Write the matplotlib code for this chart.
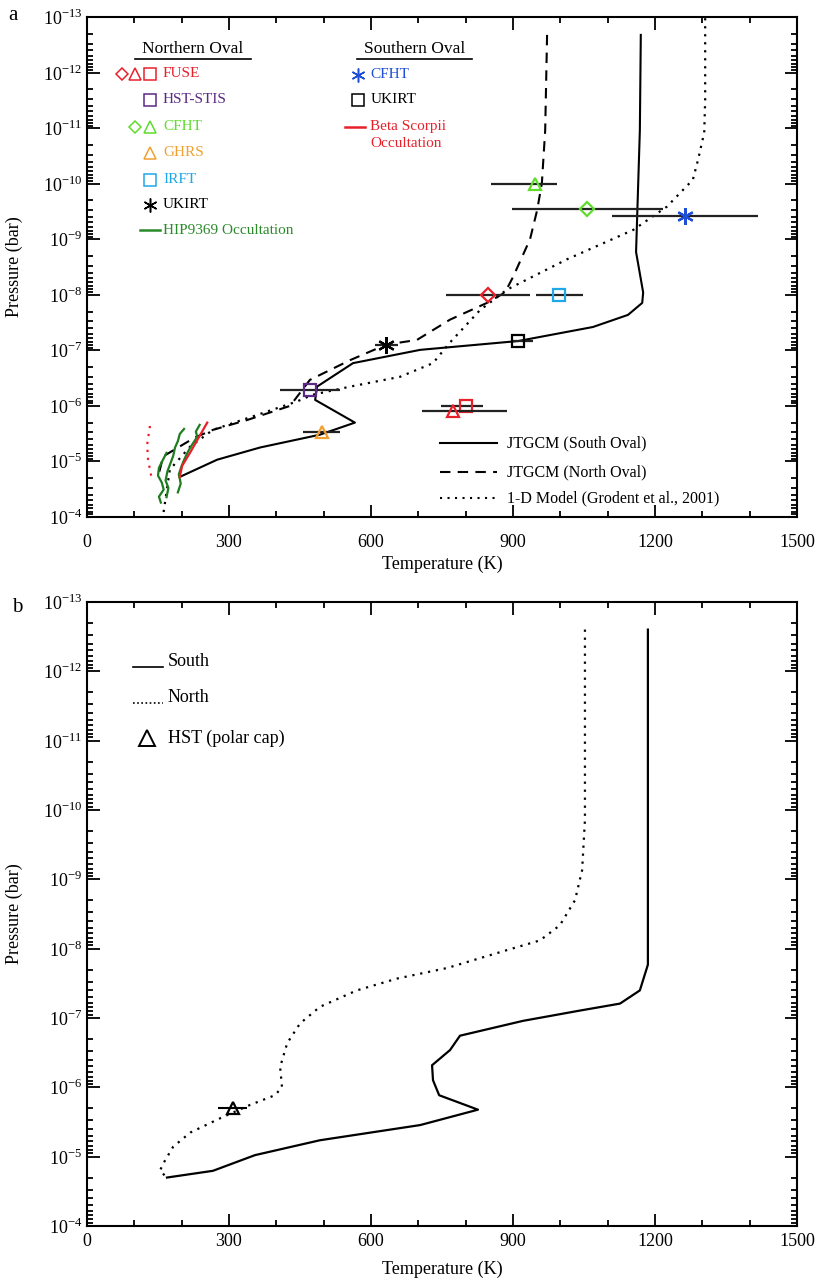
import matplotlib
matplotlib.use("Agg")
import matplotlib.pyplot as plt
from matplotlib.ticker import FixedLocator, LogLocator, MultipleLocator, NullFormatter

plt.rcParams["font.family"] = "Liberation Serif"
plt.rcParams["mathtext.fontset"] = "custom"
plt.rcParams["mathtext.rm"] = "Liberation Serif"

# ---- panel a: model profiles (temperature K, pressure bar) ----
south_a_T = [1170, 1168, 1160, 1175, 1173, 1143, 1069, 911, 704, 562, 486, 482, 566, 492, 366, 275, 196]
south_a_P = [2.1e-13, 1.1e-11, 1.7e-9, 9.1e-9, 1.4e-8, 2.3e-8, 3.8e-8, 6.8e-8, 9.8e-8, 1.7e-7, 4.5e-7,
             7.8e-7, 2.0e-6, 3.3e-6, 5.6e-6, 9.3e-6, 1.9e-5]
north_a_T = [972, 968, 961, 951, 936, 900, 883, 845, 767, 697, 632, 556, 471, 429, 338, 266, 228, 161, 150]
north_a_P = [2.1e-13, 1.1e-11, 9.8e-11, 3.0e-10, 1.0e-9, 4.8e-9, 9.1e-9, 1.4e-8, 2.8e-8, 6.5e-8, 7.9e-8,
             1.5e-7, 3.4e-7, 1.0e-6, 1.8e-6, 2.7e-6, 3.7e-6, 8.1e-6, 1.9e-5]
model1d_T = [1306, 1306, 1304, 1291, 1280, 1259, 1225, 1154, 1014, 887, 830, 767, 731, 661, 556, 477, 444,
             266, 218, 175, 161]
model1d_P = [1.05e-13, 3.1e-12, 1.2e-11, 3.7e-11, 8.5e-11, 1.3e-10, 2.6e-10, 6.8e-10, 2.3e-9, 8.1e-9, 1.9e-8,
             7.2e-8, 1.7e-7, 3.0e-7, 4.5e-7, 6.3e-7, 8.3e-7, 2.7e-6, 5.4e-6, 1.4e-5, 9.1e-5]

# occultations
beta_T = [254, 218, 201, 196]
beta_P = [2.0e-6, 6.9e-6, 1.2e-5, 1.9e-5]
beta_dot_T = [133, 127, 129, 137]
beta_dot_P = [2.3e-6, 5.0e-6, 9.3e-6, 2.1e-5]
hip1_T = [168, 160, 152, 150, 158, 162, 152, 156]
hip1_P = [7.0e-6, 9.5e-6, 1.3e-5, 1.8e-5, 2.4e-5, 3.2e-5, 4.3e-5, 5.5e-5]
hip2_T = [205, 196, 192, 186, 182, 176, 170, 166, 172, 168]
hip2_P = [2.6e-6, 3.2e-6, 4.3e-6, 5.6e-6, 8.0e-6, 1.1e-5, 1.5e-5, 2.2e-5, 3.0e-5, 4.4e-5]
hip3_T = [238, 230, 233, 222, 214, 206, 200, 194, 198, 192]
hip3_P = [2.2e-6, 2.9e-6, 3.6e-6, 5.0e-6, 6.5e-6, 9.0e-6, 1.2e-5, 1.7e-5, 2.5e-5, 3.6e-5]

# observations
obs_names = ["CFHT tri", "CFHT dia", "CFHT S", "FUSE dia", "IRFT", "UKIRT N", "UKIRT S", "HST-STIS",
             "FUSE sq", "FUSE tri", "GHRS"]
obs_T = [947, 1056, 1263, 847, 997, 632, 911, 471, 801, 773, 497]
obs_P = [1.0e-10, 2.8e-10, 3.8e-10, 1.0e-8, 1.0e-8, 7.9e-8, 6.8e-8, 5.1e-7, 1.0e-6, 1.26e-6, 3.0e-6]
obs_T_low = [854, 898, 1109, 758, 949, 608, 900, 408, 748, 708, 456]
obs_T_high = [993, 1217, 1418, 936, 1048, 657, 942, 535, 837, 887, 535]
obs_markers = ["^", "D", (6, 2, 0), "D", "s", (6, 2, 0), "s", "s", "s", "^", "^"]
obs_colors = ["#5fdc2c", "#5fdc2c", "#1f4fd8", "#e8202a", "#1fa8e8", "black", "black", "#5b2a86",
              "#e8202a", "#e8202a", "#f0a030"]

# ---- panel b ----
south_b_T = [1185, 1185, 1168, 1126, 1042, 921, 788, 767, 729, 731, 744, 826, 704, 492, 355, 266, 169]
south_b_P = [2.5e-13, 1.7e-8, 4.0e-8, 6.2e-8, 7.8e-8, 1.1e-7, 1.8e-7, 2.9e-7, 4.8e-7, 7.9e-7, 1.3e-6,
             2.1e-6, 3.5e-6, 5.8e-6, 9.5e-6, 1.6e-5, 2.0e-5]
north_b_T = [1052, 1052, 1046, 1031, 999, 957, 887, 761, 655, 570, 492, 450, 423, 408, 412, 397, 344, 281,
             218, 182, 161, 154, 169]
north_b_P = [2.5e-13, 1.4e-10, 7.4e-10, 2.0e-9, 4.6e-9, 7.6e-9, 1.05e-8, 1.9e-8, 2.7e-8, 4.0e-8, 6.9e-8,
             1.2e-7, 2.3e-7, 5.1e-7, 1.0e-6, 1.3e-6, 1.8e-6, 2.8e-6, 4.5e-6, 7.2e-6, 1.26e-5, 1.6e-5, 2.0e-5]
hst_T = [308]
hst_P = [2.0e-6]
hst_T_low = [277]
hst_T_high = [338]

decades = [1e-13, 1e-12, 1e-11, 1e-10, 1e-9, 1e-8, 1e-7, 1e-6, 1e-5, 1e-4]
decade_labels = [r"$10^{-13}$", r"$10^{-12}$", r"$10^{-11}$", r"$10^{-10}$", r"$10^{-9}$",
                 r"$10^{-8}$", r"$10^{-7}$", r"$10^{-6}$", r"$10^{-5}$", r"$10^{-4}$"]
temp_ticks = [0, 300, 600, 900, 1200, 1500]

DOT = (0, (1, 2.6))
DASH = (0, (5, 3.5))


def style_axes(ax, label_pad):
    ax.set_yscale("log")
    ax.set_xlim(0, 1500)
    ax.set_ylim(1e-4, 1e-13)
    ax.yaxis.set_major_locator(FixedLocator(decades))
    ax.set_yticklabels(decade_labels)
    ax.yaxis.set_minor_locator(LogLocator(base=10, subs=range(2, 10), numticks=30))
    ax.yaxis.set_minor_formatter(NullFormatter())
    ax.set_xticks(temp_ticks)
    ax.xaxis.set_minor_locator(MultipleLocator(100))
    ax.tick_params(which="both", direction="in", top=True, right=True, width=1.3, labelsize=13)
    ax.tick_params(which="major", length=9)
    ax.tick_params(which="minor", length=4.5)
    ax.tick_params(axis="x", which="major", pad=label_pad)
    for s in ax.spines.values():
        s.set_linewidth(1.5)
    ax.set_xlabel("Temperature (K)", fontsize=13, labelpad=0)
    ax.set_ylabel("Pressure (bar)", fontsize=13)
    ax.yaxis.set_label_coords(-0.09, 0.5)


fig = plt.figure(figsize=(8.17, 12.79), dpi=100)
ax_a = fig.add_axes([87 / 817, 1 - 517 / 1279, 710 / 817, 500 / 1279])
ax_b = fig.add_axes([87 / 817, 1 - 1226 / 1279, 710 / 817, 624 / 1279])

# ---------------- panel a ----------------
ax = ax_a
ax.plot(south_a_T, south_a_P, color="black", lw=1.5)
ax.plot(north_a_T, north_a_P, color="black", lw=1.5, ls=DASH)
ax.plot(model1d_T, model1d_P, color="black", lw=1.6, ls=DOT)
ax.plot(beta_dot_T, beta_dot_P, color="#e8202a", lw=1.6, ls=DOT)
for tt, pp in [(hip1_T, hip1_P), (hip2_T, hip2_P), (hip3_T, hip3_P)]:
    ax.plot(tt, pp, color="#1e7d1e", lw=1.6)
ax.plot(beta_T, beta_P, color="#e8202a", lw=1.6)

for t, p, lo, hi, m, c in zip(obs_T, obs_P, obs_T_low, obs_T_high, obs_markers, obs_colors):
    ax.errorbar([t], [p], xerr=[[t - lo], [hi - t]], fmt="none", ecolor="#222222", elinewidth=1.6, capsize=0)
    size = 7 if m == "D" else (12 if isinstance(m, tuple) else 9)
    ax.plot([t], [p], marker=m, ms=size, mfc="none", mec=c, mew=1.6, ls="none")

style_axes(ax, 12)
ax.xaxis.set_label_coords(0.5, -0.078)

tr = ax.transAxes
# northern oval key
ax.text(0.149, 0.936, "Northern Oval", transform=tr, ha="center", va="center", fontsize=12.5)
ax.plot([0.068, 0.231], [0.916, 0.916], transform=tr, color="black", lw=1.2)
rows_y = [0.886, 0.834, 0.780, 0.728, 0.674, 0.624, 0.574]
row_text = ["FUSE", "HST-STIS", "CFHT", "GHRS", "IRFT", "UKIRT", "HIP9369 Occultation"]
row_color = ["#e8202a", "#5b2a86", "#5fdc2c", "#f0a030", "#1fa8e8", "black", "#2a8a2a"]
row_marks = [[(0.049, "D"), (0.068, "^"), (0.089, "s")], [(0.089, "s")], [(0.068, "D"), (0.089, "^")],
             [(0.089, "^")], [(0.089, "s")], [(0.089, (6, 2, 0))], []]
for y, txt, c, marks in zip(rows_y, row_text, row_color, row_marks):
    ax.text(0.107, y, txt, transform=tr, ha="left", va="center", fontsize=11, color=c)
    for x, m in marks:
        ms = 6 if m == "D" else (10 if isinstance(m, tuple) else 8)
        ax.plot([x], [y], transform=tr, marker=m, ms=ms, mfc="none", mec=c, mew=1.1, ls="none")
ax.plot([0.075, 0.103], [0.574, 0.574], transform=tr, color="#2a8a2a", lw=1.8)

# southern oval key
ax.text(0.462, 0.936, "Southern Oval", transform=tr, ha="center", va="center", fontsize=12.5)
ax.plot([0.380, 0.542], [0.916, 0.916], transform=tr, color="black", lw=1.2)
ax.plot([0.382], [0.884], transform=tr, marker=(6, 2, 0), ms=10, mec="#1f4fd8", mew=1.1, ls="none")
ax.text(0.399, 0.884, "CFHT", transform=tr, ha="left", va="center", fontsize=11, color="#1f4fd8")
ax.plot([0.382], [0.834], transform=tr, marker="s", ms=8, mfc="none", mec="black", mew=1.1, ls="none")
ax.text(0.399, 0.834, "UKIRT", transform=tr, ha="left", va="center", fontsize=11, color="black")
ax.plot([0.363, 0.392], [0.780, 0.780], transform=tr, color="#e8202a", lw=1.8)
ax.text(0.399, 0.780, "Beta Scorpii", transform=tr, ha="left", va="center", fontsize=11, color="#e8202a")
ax.text(0.399, 0.746, "Occultation", transform=tr, ha="left", va="center", fontsize=11, color="#e8202a")

# model key
for y, ls, txt in [(0.148, "-", "JTGCM (South Oval)"), (0.090, DASH, "JTGCM (North Oval)"),
                   (0.038, DOT, "1-D Model (Grodent et al., 2001)")]:
    ax.plot([0.497, 0.577], [y, y], transform=tr, color="black", lw=1.5, ls=ls)
    ax.text(0.592, y, txt, transform=tr, ha="left", va="center", fontsize=11.5)

# ---------------- panel b ----------------
ax = ax_b
ax.plot(south_b_T, south_b_P, color="black", lw=1.6)
ax.plot(north_b_T, north_b_P, color="black", lw=1.6, ls=DOT)
ax.errorbar(hst_T, hst_P, xerr=[[hst_T[0] - hst_T_low[0]], [hst_T_high[0] - hst_T[0]]], fmt="none",
            ecolor="black", elinewidth=1.5, capsize=0)
ax.plot(hst_T, hst_P, marker="^", ms=9, mfc="none", mec="black", mew=1.6, ls="none")
style_axes(ax, 5)
ax.xaxis.set_label_coords(0.5, -0.055)

tr = ax.transAxes
ax.plot([0.065, 0.107], [0.896, 0.896], transform=tr, color="black", lw=1.2)
ax.text(0.114, 0.904, "South", transform=tr, ha="left", va="center", fontsize=13)
ax.plot([0.065, 0.107], [0.838, 0.838], transform=tr, color="black", lw=1.2, ls=(0, (1, 1.5)))
ax.text(0.114, 0.847, "North", transform=tr, ha="left", va="center", fontsize=13)
ax.plot([0.085], [0.782], transform=tr, marker="^", ms=12, mfc="none", mec="black", mew=1.4, ls="none")
ax.text(0.114, 0.782, "HST (polar cap)", transform=tr, ha="left", va="center", fontsize=13)

fig.text(8 / 817, 1 - 16 / 1279, "a", fontsize=15, ha="left", va="center")
fig.text(12 / 817, 1 - 607 / 1279, "b", fontsize=15, ha="left", va="center")

fig.savefig("out.png", dpi=100)
